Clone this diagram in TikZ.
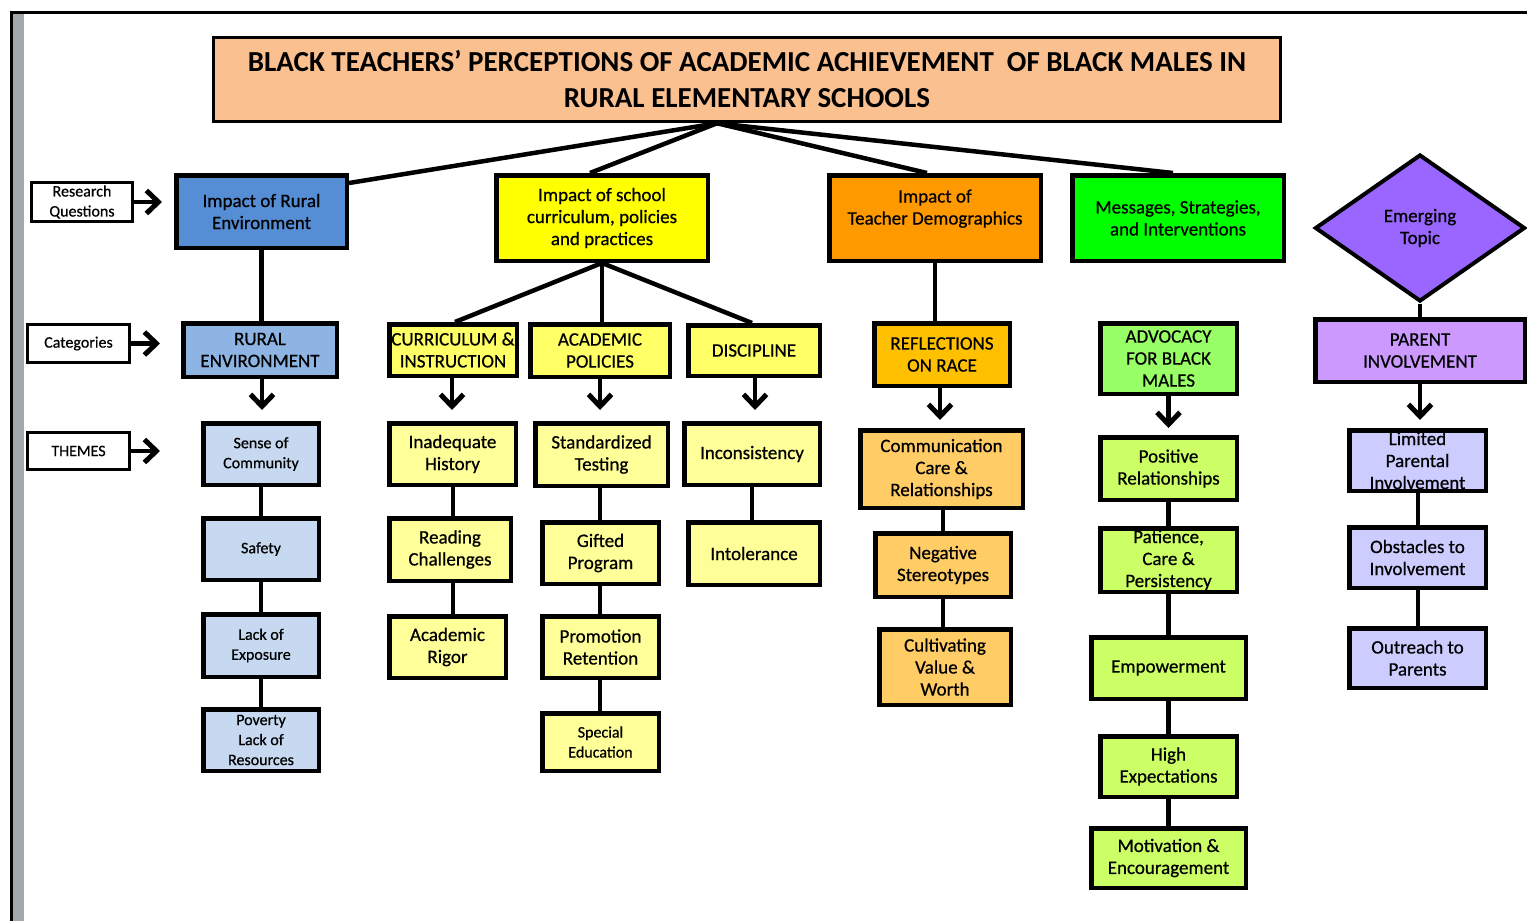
\documentclass[tikz,border=0pt]{standalone}
\usepackage{fontspec}
\setmainfont{Carlito}[UprightFeatures={FakeBold=0.6},BoldFont=Carlito Bold]
\usetikzlibrary{arrows.meta,shapes.geometric,calc}
\definecolor{ctitle}{HTML}{FAC090}
\definecolor{cblueA}{HTML}{558ED5}
\definecolor{cblueB}{HTML}{8EB4E3}
\definecolor{cblueC}{HTML}{C6D9F1}
\definecolor{cyelA}{HTML}{FFFF00}
\definecolor{cyelB}{HTML}{FFFF66}
\definecolor{cyelC}{HTML}{FFFF99}
\definecolor{coraA}{HTML}{FF9900}
\definecolor{coraB}{HTML}{FFC000}
\definecolor{coraC}{HTML}{FFCC66}
\definecolor{cgrnA}{HTML}{00FF00}
\definecolor{cgrnB}{HTML}{99FF66}
\definecolor{cgrnC}{HTML}{CCFF66}
\definecolor{cpurA}{HTML}{9966FF}
\definecolor{cpurB}{HTML}{CC99FF}
\definecolor{cpurC}{HTML}{CCCCFF}
\definecolor{cgreybar}{HTML}{A3A6AA}
\newcommand\ft{\fontsize{29}{36}\selectfont\bfseries}
\newcommand\fm{\fontsize{19}{22}\selectfont}
\newcommand\fs{\fontsize{16}{20}\selectfont}
\newcommand\nbox[8]{%
  \pgfmathsetmacro\bw{#4-#2-4.5}%
  \pgfmathsetmacro\bh{#5-#3-4.5}%
  \node[box,#6,minimum width=\bw pt,minimum height=\bh pt] (#1) at ({(#2+#4)/2},{(#3+#5)/2}) {};
  \node[txt,font=#7] (#1t) at (#1.center) {#8};}
\begin{document}
\begin{tikzpicture}[x=1pt,y=-1pt,
  box/.style={draw=black,line width=4.5pt,inner sep=0pt},
  txt/.style={inner sep=0pt,align=center,text=black},
  ln/.style={line width=4.5pt},
  arr/.style={line width=4.5pt,-{Straight Barb[length=12pt,width=23pt,line width=5pt]}}]
\useasboundingbox (0,0) rectangle (1527,921);
\fill[white] (0,0) rectangle (1527,921);
% page frame
\fill[cgreybar] (13,13) rectangle (24,921);
\draw[line width=3pt] (11,921) -- (11,12) -- (1527,12);
% title
\nbox{title}{211}{35}{1283}{124}{fill=ctitle,line width=3pt}{\ft}{BLACK TEACHERS’ PERCEPTIONS OF ACADEMIC ACHIEVEMENT\ \ OF BLACK MALES IN\\RURAL ELEMENTARY SCHOOLS}
% row labels
\nbox{rq}{29}{180}{135}{224}{fill=white,line width=3pt}{\fs}{Research\\Questions}
\nbox{cat}{25}{322}{132}{365}{fill=white,line width=3pt}{\fs}{Categories}
\nbox{thm}{25}{430}{132}{472}{fill=white,line width=3pt}{\fs}{THEMES}
% research questions
\nbox{rA}{174}{173}{349}{250}{fill=cblueA}{\fm}{Impact of Rural\\Environment}
\nbox{rB}{494}{173}{710}{263}{fill=cyelA}{\fm}{Impact of school\\curriculum, policies\\and practices}
\nbox{rC}{827}{173}{1043}{263}{fill=coraA}{\fm}{Impact of\\Teacher Demographics\\\mbox{}}
\nbox{rD}{1070}{173}{1286}{263}{fill=cgrnA}{\fm}{Messages, Strategies,\\and Interventions}
\node[diamond,draw=black,line width=4pt,fill=cpurA,minimum width=210pt,minimum height=147pt,inner sep=0pt] (rE) at (1420,228) {};
\node[txt,font=\fm] (rEt) at (rE.center) {Emerging\\Topic};
% categories
\nbox{cA}{181}{321}{339}{379}{fill=cblueB}{\fm}{RURAL\\ENVIRONMENT}
\nbox{cB1}{387}{322}{519}{378}{fill=cyelB}{\fm}{CURRICULUM \&\\INSTRUCTION}
\nbox{cB2}{528}{322}{672}{379}{fill=cyelB}{\fm}{ACADEMIC\\POLICIES}
\nbox{cB3}{686}{323}{822}{378}{fill=cyelB}{\fm}{DISCIPLINE}
\nbox{cC}{872}{321}{1012}{388}{fill=coraB}{\fm}{REFLECTIONS\\ON RACE}
\nbox{cD}{1098}{321}{1239}{396}{fill=cgrnB}{\fm}{ADVOCACY\\FOR BLACK\\MALES}
\nbox{cE}{1313}{317}{1527}{384}{fill=cpurB}{\fm}{PARENT\\INVOLVEMENT}
% themes: rural
\nbox{tA1}{201}{421}{321}{487}{fill=cblueC}{\fs}{Sense of\\Community}
\nbox{tA2}{201}{516}{321}{582}{fill=cblueC}{\fs}{Safety}
\nbox{tA3}{201}{612}{321}{679}{fill=cblueC}{\fs}{Lack of\\Exposure}
\nbox{tA4}{201}{707}{321}{773}{fill=cblueC}{\fs}{Poverty\\Lack of\\Resources}
% themes: curriculum
\nbox{tB1}{387}{421}{518}{487}{fill=cyelC}{\fm}{Inadequate\\History}
\nbox{tB2}{387}{516}{513}{583}{fill=cyelC}{\fm}{Reading\\Challenges}
\nbox{tB3}{387}{614}{508}{680}{fill=cyelC}{\fm}{Academic\\Rigor}
% themes: academic policies
\nbox{tC1}{533}{421}{670}{488}{fill=cyelC}{\fm}{Standardized\\Testing}
\nbox{tC2}{540}{520}{661}{586}{fill=cyelC}{\fm}{Gifted\\Program}
\nbox{tC3}{540}{614}{661}{680}{fill=cyelC}{\fm}{Promotion\\Retention}
\nbox{tC4}{540}{711}{661}{773}{fill=cyelC}{\fs}{Special\\Education}
% themes: discipline
\nbox{tD1}{682}{421}{822}{487}{fill=cyelC}{\fm}{Inconsistency}
\nbox{tD2}{686}{520}{822}{587}{fill=cyelC}{\fm}{Intolerance}
% themes: reflections
\nbox{tE1}{858}{428}{1025}{510}{fill=coraC}{\fm}{Communication\\Care \&\\Relationships}
\nbox{tE2}{873}{531}{1013}{599}{fill=coraC}{\fm}{Negative\\Stereotypes}
\nbox{tE3}{877}{627}{1013}{707}{fill=coraC}{\fm}{Cultivating\\Value \&\\Worth}
% themes: advocacy
\nbox{tF1}{1098}{435}{1239}{502}{fill=cgrnC}{\fm}{Positive\\Relationships}
\nbox{tF2}{1098}{526}{1239}{594}{fill=cgrnC}{\fm}{Patience,\\Care \&\\Persistency}
\nbox{tF3}{1089}{635}{1248}{701}{fill=cgrnC}{\fm}{Empowerment}
\nbox{tF4}{1098}{734}{1239}{799}{fill=cgrnC}{\fm}{High\\Expectations}
\nbox{tF5}{1089}{826}{1248}{890}{fill=cgrnC}{\fm}{Motivation \&\\Encouragement}
% themes: parent
\nbox{tG1}{1347}{428}{1488}{493}{fill=cpurC}{\fm}{Limited\\Parental\\Involvement}
\nbox{tG2}{1347}{525}{1488}{590}{fill=cpurC}{\fm}{Obstacles to\\Involvement}
\nbox{tG3}{1347}{626}{1488}{690}{fill=cpurC}{\fm}{Outreach to\\Parents}
% title to research questions
\coordinate (hub) at ([xshift=-30pt]title.south);
\draw[ln] (hub) -- ([yshift=-10pt]rA.north east);
\draw[ln] (hub) -- ([xshift=-12pt]rB.north);
\draw[ln] (hub) -- ([xshift=-8pt]rC.north);
\draw[ln] (hub) -- ([xshift=-5pt]rD.north);
% research questions to categories
\draw[ln] (rA.south) -- (rA.south |- cA.north);
\draw[ln] (rB.south) -- ([xshift=2pt]cB1.north);
\draw[ln] (rB.south) -- (rB.south |- cB2.north);
\draw[ln] (rB.south) -- ([xshift=-2pt]cB3.north);
\draw[ln] (rC.south) -- (rC.south |- cC.north);
\draw[ln] (rE.south) -- (rE.south |- cE.north);
% row label arrows
\draw[arr,shorten >=12pt] (rq.east) -- (rq.east -| rA.west);
\draw[arr,shorten >=21pt] (cat.east) -- (cat.east -| cA.west);
\draw[arr,shorten >=41pt] (thm.east) -- (thm.east -| tA1.west);
% category to first theme arrows
\draw[arr,shorten >=11pt] ([xshift=2pt]cA.south) -- ([xshift=2pt]cA.south |- tA1.north);
\draw[arr,shorten >=11pt] ([xshift=-1pt]cB1.south) -- ([xshift=-1pt]cB1.south |- tB1.north);
\draw[arr,shorten >=11pt] (cB2.south) -- (cB2.south |- tC1.north);
\draw[arr,shorten >=11pt] ([xshift=1pt]cB3.south) -- ([xshift=1pt]cB3.south |- tD1.north);
\draw[arr,shorten >=8pt] ([xshift=-2pt]cC.south) -- ([xshift=-2pt]cC.south |- tE1.north);
\draw[arr,shorten >=7pt] (cD.south) -- (cD.south |- tF1.north);
\draw[arr,shorten >=8pt] (cE.south) -- (cE.south |- tG1.north);
% theme chains
\draw[ln] (tA1.south) -- (tA1.south |- tA2.north);
\draw[ln] (tA2.south) -- (tA2.south |- tA3.north);
\draw[ln] (tA3.south) -- (tA3.south |- tA4.north);
\draw[ln] ([xshift=0.5pt]tB1.south) -- ([xshift=0.5pt]tB1.south |- tB2.north);
\draw[ln] ([xshift=0.5pt]tB1.south |- tB2.south) -- ([xshift=0.5pt]tB1.south |- tB3.north);
\draw[ln] ([xshift=-1.5pt]tC1.south) -- ([xshift=-1.5pt]tC1.south |- tC2.north);
\draw[ln] ([xshift=-1.5pt]tC1.south |- tC2.south) -- ([xshift=-1.5pt]tC1.south |- tC3.north);
\draw[ln] ([xshift=-1.5pt]tC1.south |- tC3.south) -- ([xshift=-1.5pt]tC1.south |- tC4.north);
\draw[ln] (tD1.south) -- (tD1.south |- tD2.north);
\draw[ln] (tE2.north |- tE1.south) -- (tE2.north);
\draw[ln] (tE2.south) -- (tE2.south |- tE3.north);
\draw[ln] (tF1.south) -- (tF1.south |- tF2.north);
\draw[ln] (tF2.south) -- (tF2.south |- tF3.north);
\draw[ln] (tF3.south) -- (tF3.south |- tF4.north);
\draw[ln] (tF4.south) -- (tF4.south |- tF5.north);
\draw[ln] ([xshift=0.5pt]tG1.south) -- ([xshift=0.5pt]tG1.south |- tG2.north);
\draw[ln] ([xshift=0.5pt]tG2.south) -- ([xshift=0.5pt]tG2.south |- tG3.north);
\end{tikzpicture}
\end{document}
